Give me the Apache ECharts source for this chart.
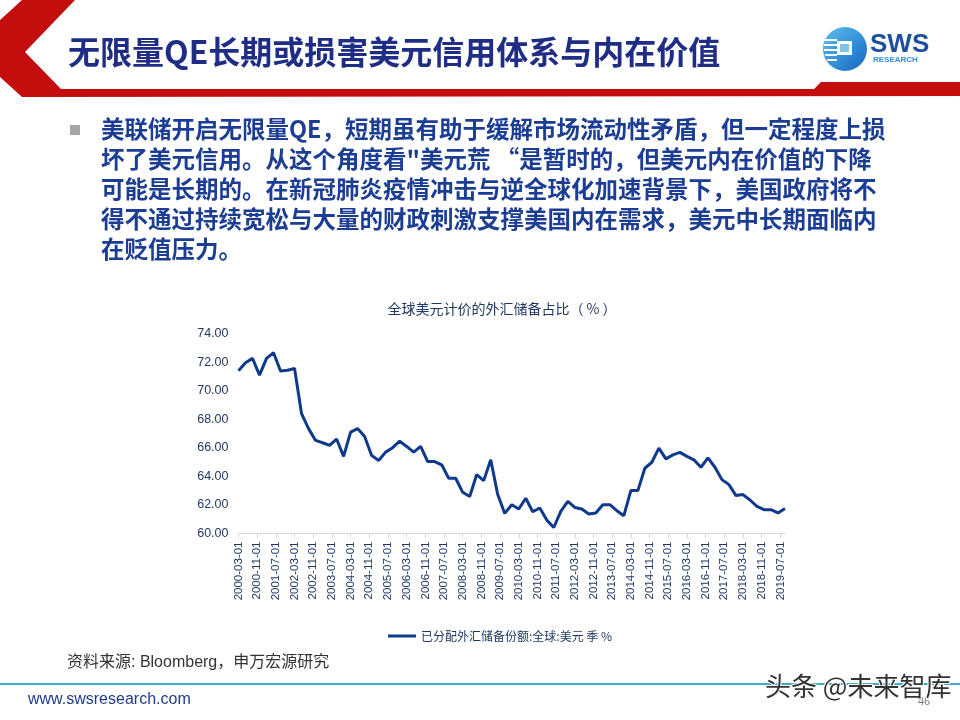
<!DOCTYPE html>
<html>
<head>
<meta charset="utf-8">
<script src="https://cdn.jsdelivr.net/npm/echarts@6/dist/echarts.min.js"></script>
<style>
  html, body { margin: 0; padding: 0; background: #fff; }
  #main { width: 960px; height: 720px; }
</style>
</head>
<body>
<div id="main"></div>
<script>
(function () {
  'use strict';

  // 数据
  var seriesName = '已分配外汇储备份额:全球:美元 季 %';
  var firstQuarter = '2000-03-01';
  var usdShare = [
    71.42, 71.98, 72.29, 71.11, 72.29, 72.69, 71.40, 71.46, 71.58, 68.41,
    67.36, 66.53, 66.37, 66.18, 66.63, 65.41, 67.12, 67.36, 66.81, 65.48,
    65.12, 65.71, 66.02, 66.48, 66.11, 65.71, 66.11, 65.05, 65.05, 64.82,
    63.88, 63.88, 62.89, 62.59, 64.14, 63.71, 65.17, 62.73, 61.41, 62.02,
    61.72, 62.47, 61.53, 61.79, 60.94, 60.42, 61.55, 62.26, 61.83, 61.72,
    61.37, 61.44, 62.02, 62.02, 61.60, 61.25, 63.01, 63.01, 64.58, 65.00,
    65.99, 65.24, 65.52, 65.69, 65.41, 65.17, 64.65, 65.31, 64.65, 63.78,
    63.43, 62.66, 62.73, 62.35, 61.90, 61.67, 61.67, 61.44, 61.76
  ];
  var tickLabels = [
    '2000-03-01', '2000-11-01', '2001-07-01', '2002-03-01', '2002-11-01',
    '2003-07-01', '2004-03-01', '2004-11-01', '2005-07-01', '2006-03-01',
    '2006-11-01', '2007-07-01', '2008-03-01', '2008-11-01', '2009-07-01',
    '2010-03-01', '2010-11-01', '2011-07-01', '2012-03-01', '2012-11-01',
    '2013-07-01', '2014-03-01', '2014-11-01', '2015-07-01', '2016-03-01',
    '2016-11-01', '2017-07-01', '2018-03-01', '2018-11-01', '2019-07-01'
  ];
  var yTicks = [60, 62, 64, 66, 68, 70, 72, 74];

  // 以 2000-03 为起点的月份序号
  function monthIndex(d) {
    var p = d.split('-');
    return (parseInt(p[0], 10) - 2000) * 12 + parseInt(p[1], 10) - 3;
  }
  var m0 = monthIndex(firstQuarter);
  var lineData = usdShare.map(function (v, i) {
    return [m0 + i * 3, v];
  });
  var tickValues = tickLabels.map(function (d) { return monthIndex(d); });

  var navy = '#1f3864';
  var body = [
    '美联储开启无限量QE，短期虽有助于缓解市场流动性矛盾，但一定程度上损',
    '坏了美元信用。从这个角度看"美元荒 “是暂时的，但美元内在价值的下降',
    '可能是长期的。在新冠肺炎疫情冲击与逆全球化加速背景下，美国政府将不',
    '得不通过持续宽松与大量的财政刺激支撑美国内在需求，美元中长期面临内',
    '在贬值压力。'
  ];

  var graphics = [
    // 页眉红色折角
    {
      type: 'polygon', silent: true,
      shape: { points: [[22, 0], [75, 0], [25, 52], [61, 89], [814, 89], [821, 82],
                        [960, 82], [960, 96], [22, 97], [0, 77], [0, 20]] },
      style: { fill: '#c40d0d' }
    },
    {
      type: 'text', left: 68, top: 36,
      style: { text: '无限量QE长期或损害美元信用体系与内在价值', fill: '#1f2d86',
               font: 'bold 32px "Noto Sans CJK SC"' }
    },
    // logo
    {
      type: 'circle', shape: { cx: 845, cy: 49, r: 22 },
      style: { fill: new echarts.graphic.LinearGradient(0, 0, 1, 1, [
        { offset: 0, color: '#5cc0f0' }, { offset: 1, color: '#1565c0' }]) }
    },
    { type: 'rect', shape: { x: 825, y: 39, width: 12, height: 2 }, style: { fill: '#fff' } },
    { type: 'rect', shape: { x: 824, y: 44, width: 13, height: 2 }, style: { fill: '#fff' } },
    { type: 'rect', shape: { x: 824, y: 49, width: 13, height: 2 }, style: { fill: '#fff' } },
    { type: 'rect', shape: { x: 825, y: 54, width: 12, height: 2 }, style: { fill: '#fff' } },
    { type: 'rect', shape: { x: 827, y: 59, width: 10, height: 2 }, style: { fill: '#fff' } },
    { type: 'rect', shape: { x: 837, y: 41, width: 15, height: 14 }, style: { fill: '#fff' } },
    { type: 'rect', shape: { x: 840, y: 44, width: 9, height: 8 }, style: { fill: '#7fc4ee' } },
    {
      type: 'text', left: 870, top: 32,
      style: { text: 'SWS', fill: '#1e4f9f', font: 'bold 26px "Liberation Sans"' }
    },
    {
      type: 'text', left: 873, top: 56,
      style: { text: 'RESEARCH', fill: '#2b8fd6', font: 'bold 8px "Liberation Sans"' }
    },
    // 正文
    { type: 'rect', shape: { x: 70, y: 125, width: 10, height: 10 }, style: { fill: '#a6a6a6' } },
    // 页脚
    { type: 'rect', shape: { x: 0, y: 683, width: 960, height: 2 }, style: { fill: '#3fa9c9' } },
    {
      type: 'text', left: 67, top: 655,
      style: { text: '资料来源: Bloomberg，申万宏源研究', fill: '#333',
               font: '16px "Liberation Sans", "Noto Sans CJK SC"' }
    },
    {
      type: 'text', left: 28, top: 692,
      style: { text: 'www.swsresearch.com', fill: '#1f3c88', font: '16px "Liberation Sans"' }
    },
    {
      type: 'text', left: 918, top: 696,
      style: { text: '46', fill: '#777', font: '11px "Liberation Sans"' }
    },
    {
      type: 'text', left: 764, top: 672,
      style: { text: '头条 @未来智库', fill: '#333', font: '26px "Noto Sans CJK SC"',
               stroke: '#fff', lineWidth: 2 }
    }
  ];
  body.forEach(function (t, i) {
    graphics.push({
      type: 'text', left: 101, top: 117 + i * 30,
      style: { text: t, fill: '#1c3d94', font: 'bold 23.5px "Noto Sans CJK SC"' }
    });
  });

  var myChart = echarts.init(document.getElementById('main'));

  var option = {
    backgroundColor: '#fff',
    animation: false,
    color: ['#0f3a8c'],
    title: {
      text: '全球美元计价的外汇储备占比（ % ）',
      left: 497, top: 297, textAlign: 'center',
      textStyle: { color: navy, fontSize: 14, fontWeight: 'normal',
                   fontFamily: '"Noto Sans CJK SC"' }
    },
    legend: {
      data: [seriesName],
      left: 383, top: 625,
      icon: 'rect', itemWidth: 28, itemHeight: 3,
      textStyle: { color: navy, fontSize: 12, fontFamily: '"Noto Sans CJK SC"' }
    },
    grid: { left: 238.5, right: 175, top: 334, bottom: 186.5 },
    xAxis: {
      type: 'value',
      min: 0, max: m0 + (usdShare.length - 1) * 3, interval: 8,
      splitLine: { show: false },
      axisLine: { lineStyle: { color: '#d9d9d9', width: 1 } },
      axisTick: { show: true, length: 5, customValues: tickValues,
                  lineStyle: { color: '#d9d9d9' } },
      axisLabel: {
        customValues: tickValues,
        rotate: 90, margin: 8,
        color: navy, fontSize: 11.5, fontFamily: '"Liberation Sans"',
        formatter: function (v) {
          var k = tickValues.indexOf(v);
          return k >= 0 ? tickLabels[k] : '';
        }
      }
    },
    yAxis: {
      type: 'value',
      min: yTicks[0], max: yTicks[yTicks.length - 1], interval: 2,
      splitLine: { show: false },
      axisLine: { show: false },
      axisTick: { show: false },
      axisLabel: {
        color: navy, fontSize: 12.5, margin: 10, fontFamily: '"Liberation Sans"',
        formatter: function (v) { return v.toFixed(2); }
      }
    },
    series: [
      {
        name: seriesName,
        type: 'line',
        data: lineData,
        showSymbol: false,
        symbol: 'none',
        lineStyle: { width: 3, color: '#0f3a8c' }
      }
    ],
    graphic: graphics
  };

  myChart.setOption(option);
}());
</script>
</body>
</html>
